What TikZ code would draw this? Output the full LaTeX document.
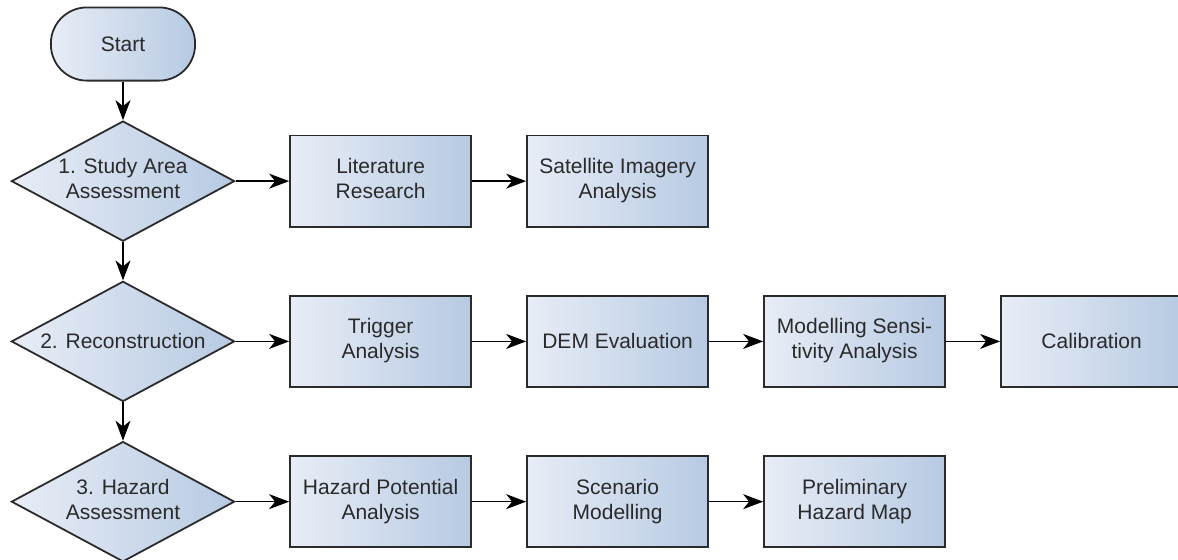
\documentclass[tikz,border=0pt]{standalone}
\usepackage{fontspec}
\setmainfont{Liberation Sans}
\usetikzlibrary{matrix,arrows.meta,shapes.geometric}
\definecolor{fillleft}{HTML}{E8EDF6}
\definecolor{fillright}{HTML}{B7CAE3}
\definecolor{outline}{HTML}{2B2B2B}
\definecolor{labeltext}{HTML}{2A2A2A}
\newcommand{\twolines}[2]{\begin{tabular}{@{}c@{}}#1\\#2\end{tabular}}

\begin{document}
\begin{tikzpicture}[
		shaded/.style={draw=outline, line width=0.9pt, left color=fillleft, right color=fillright},
		startbox/.style={shaded, rectangle, rounded corners=18pt, minimum width=72.1pt, minimum height=36.6pt},
		decision/.style={shaded, diamond, inner sep=0pt, aspect=1.84, minimum width=111.6pt, minimum height=60.1pt},
		stepbox/.style={shaded, rectangle, minimum width=90.6pt, minimum height=45.6pt},
		flow/.style={-{Stealth[length=10pt,width=7.5pt,inset=3pt]}, line width=0.65pt, black}
	]
			\matrix (f) [matrix of nodes, row sep=19.5pt, column sep=27pt,
				nodes={anchor=center, text=labeltext, font=\fontsize{10.5}{12.5}\selectfont}]
			{
				|[startbox]| Start \\
				|[decision]| \twolines{1. Study Area}{Assessment} & |[stepbox]| \twolines{Literature}{Research} & |[stepbox]| \twolines{Satellite Imagery}{Analysis} \\
				|[decision]| 2. Reconstruction & |[stepbox]| \twolines{Trigger}{Analysis} & |[stepbox]| DEM Evaluation & |[stepbox]| \twolines{Modelling Sensi-}{tivity Analysis} & |[stepbox]| Calibration \\
				|[decision]| \twolines{3. Hazard}{Assessment} & |[stepbox]| \twolines{Hazard Potential}{Analysis} & |[stepbox]| \twolines{Scenario}{Modelling} & |[stepbox]| \twolines{Preliminary}{Hazard Map} \\};
			\path[flow]
			(f-1-1) edge (f-2-1)
			(f-2-1) edge (f-3-1) edge (f-2-2)
			(f-2-2) edge (f-2-3)
			(f-3-1) edge (f-4-1) edge (f-3-2)
			(f-3-2) edge (f-3-3)
			(f-3-3) edge (f-3-4)
			(f-3-4) edge (f-3-5)
			(f-4-1) edge (f-4-2)
			(f-4-2) edge (f-4-3)
			(f-4-3) edge (f-4-4);
			\pgfresetboundingbox
			\useasboundingbox ([shift={(-61.5pt,22pt)}]f-1-1.center) rectangle ++(589pt,-279.5pt);
		\end{tikzpicture}
\end{document}
